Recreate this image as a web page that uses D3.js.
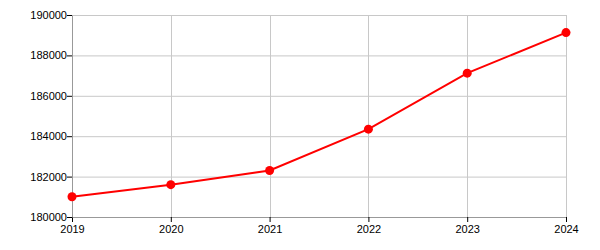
<!DOCTYPE html>
<html>
<head>
<meta charset="utf-8">
<script src="https://cdn.jsdelivr.net/npm/d3@7"></script>
<style>
  body { margin: 0; background: #fff; }
  text { font-family: "Liberation Sans", Arial, sans-serif; font-size: 11px; fill: #000; }
</style>
</head>
<body>
<svg id="chart"></svg>
<script>
// Data
const years = [2019, 2020, 2021, 2022, 2023, 2024];
const values = [181000, 181600, 182300, 184350, 187120, 189130];
const yTicks = [180000, 182000, 184000, 186000, 188000, 190000];

// Dimensions
const svg_width = 600;
const svg_height = 250;
const pad = { top: 15, bottom: 33, left: 72, right: 34 };
const w = svg_width - pad.left - pad.right;
const h = svg_height - pad.top - pad.bottom;

const svg = d3.select("#chart")
    .attr("width", svg_width)
    .attr("height", svg_height)
    .append("g")
    .attr("transform", `translate(${pad.left}, ${pad.top})`);

const data = years.map((y, i) => ({ year: y, value: values[i] }));

// Scales
const x = d3.scaleLinear().domain([2019, 2024]).range([0, w]);
const y = d3.scaleLinear().domain([180000, 190000]).range([h, 0]);

// Grid
svg.append("g")
    .selectAll("line.hg")
    .data(yTicks)
    .enter().append("line")
    .attr("x1", 0).attr("x2", w)
    .attr("y1", d => y(d) + 0.5).attr("y2", d => y(d) + 0.5)
    .attr("stroke", "#c8c8c8");

svg.append("g")
    .selectAll("line.vg")
    .data(years)
    .enter().append("line")
    .attr("x1", d => Math.round(x(d)) + 0.5).attr("x2", d => Math.round(x(d)) + 0.5)
    .attr("y1", 0).attr("y2", h)
    .attr("stroke", "#c8c8c8");

// Axes
const xAxis = svg.append("g")
    .attr("transform", `translate(0, ${h})`)
    .call(d3.axisBottom(x).tickValues(years).tickFormat(d3.format("d")).tickSize(5).tickSizeOuter(0));

const yAxis = svg.append("g")
    .call(d3.axisLeft(y).tickValues(yTicks).tickFormat(d3.format("d")).tickSize(5).tickSizeOuter(0));

[xAxis, yAxis].forEach(a => {
  a.select(".domain").attr("stroke", "#999");
  a.selectAll(".tick line").attr("stroke", "#000");
  a.selectAll("text").style("font-family", "'Liberation Sans', Arial, sans-serif").style("font-size", "11px").attr("fill", "#000");
});
yAxis.selectAll("text").attr("x", -5);
xAxis.selectAll("text").attr("y", 8);

// Line
const line = d3.line().x(d => x(d.year)).y(d => y(d.value));
svg.append("path")
    .datum(data)
    .attr("d", line)
    .attr("fill", "none")
    .attr("stroke", "#ff0000")
    .attr("stroke-width", 2);

// Points
svg.selectAll("circle")
    .data(data)
    .enter().append("circle")
    .attr("cx", d => x(d.year))
    .attr("cy", d => y(d.value))
    .attr("r", 4.5)
    .attr("fill", "#ff0000");
</script>
</body>
</html>
